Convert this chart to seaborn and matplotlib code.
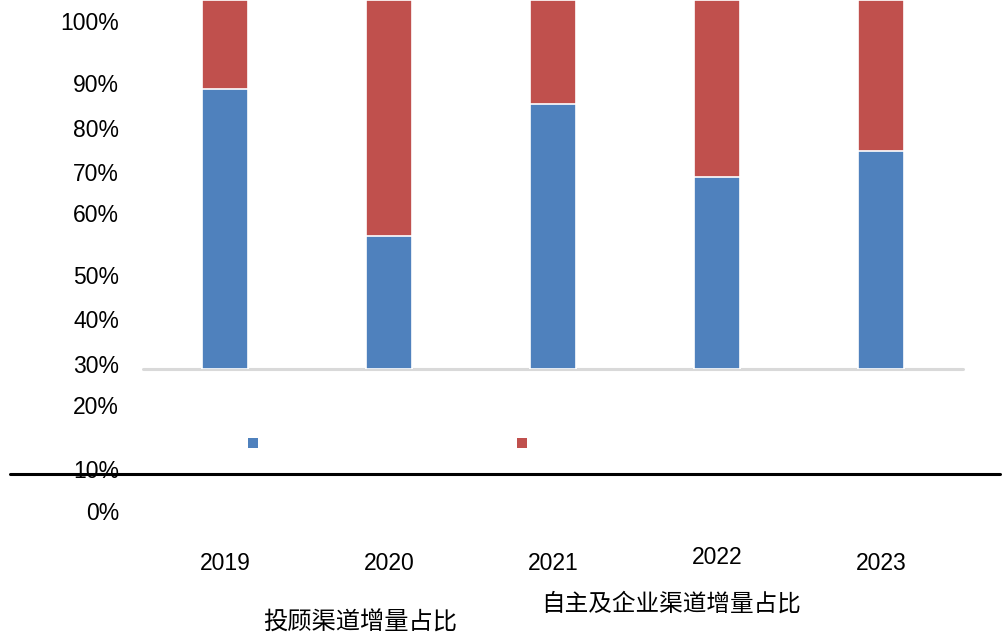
import matplotlib
matplotlib.use("Agg")
import matplotlib.pyplot as plt
import matplotlib.transforms as mtransforms
from matplotlib.patches import Rectangle
from matplotlib.lines import Line2D
import seaborn as sns
import pandas as pd

years = ["2019", "2020", "2021", "2022", "2023"]
advisor_share = [0.759, 0.360, 0.717, 0.520, 0.592]
self_share = [0.241, 0.640, 0.283, 0.480, 0.408]
tick_labels = ["100%", "90%", "80%", "70%", "60%", "50%", "40%", "30%", "20%", "10%", "0%"]
series_names = ["投顾渠道增量占比", "自主及企业渠道增量占比"]

BLUE = "#4F81BD"
RED = "#C0504D"

sns.set_theme(style="white")
plt.rcParams["font.family"] = ["Liberation Sans", "DejaVu Sans"]

W, H = 1006, 634
fig = plt.figure(figsize=(W / 100, H / 100), dpi=100)


def fx(px):
    return px / W


def fy(py):
    return 1 - py / H


ax = fig.add_axes([fx(143), fy(369), fx(963) - fx(143), 369 / H])

df = pd.DataFrame({"year": years, "advisor": advisor_share, "self": self_share})
df["total"] = df["advisor"] + df["self"]

# stacked bars: full-height red total, blue advisor share on top of it
sns.barplot(data=df, x="year", y="total", color=RED, width=0.28,
            edgecolor="white", linewidth=1.2, saturation=1, ax=ax)
sns.barplot(data=df, x="year", y="advisor", color=BLUE, width=0.28,
            edgecolor="white", linewidth=1.2, saturation=1, ax=ax)

ax.set_ylim(0, 1)
ax.set_xlim(-0.5, len(years) - 0.5)
ax.set_xlabel("")
ax.set_ylabel("")
ax.set_xticks([])
ax.set_yticks([])
for s in ax.spines.values():
    s.set_visible(False)
ax.axhline(0, color="#d9d9d9", lw=2.2, clip_on=False, zorder=0)

# percentage labels down the left side
tick_y = [23, 86, 130, 174, 216, 278, 322, 367, 408, 471, 514]
for lab, py in zip(tick_labels, tick_y):
    fig.text(fx(119), fy(py), lab, ha="right", va="center", fontsize=16.5, color="black")

# year labels under the bars
year_y = [564, 564, 564, 557, 564]
trans = mtransforms.blended_transform_factory(ax.transData, fig.transFigure)
for i, (yr, py) in enumerate(zip(years, year_y)):
    ax.text(i, fy(py), yr, transform=trans, ha="center", va="center",
            fontsize=16.5, color="black", clip_on=False)

# separator line
fig.add_artist(Line2D([fx(10), fx(1000)], [fy(474), fy(474)], color="black", lw=2.2))

# legend swatches and labels
for cx, col in [(253, BLUE), (522, RED)]:
    fig.add_artist(Rectangle((fx(cx - 5), fy(448)), fx(10), 10 / H, color=col, lw=0))
cjk = ["Noto Sans CJK SC", "DejaVu Sans"]
fig.text(fx(360), fy(623), series_names[0], ha="center", va="center",
         fontsize=17.5, family=cjk, color="black")
fig.text(fx(671), fy(604), series_names[1], ha="center", va="center",
         fontsize=17, family=cjk, color="black")

fig.savefig("out.png", dpi=100)
